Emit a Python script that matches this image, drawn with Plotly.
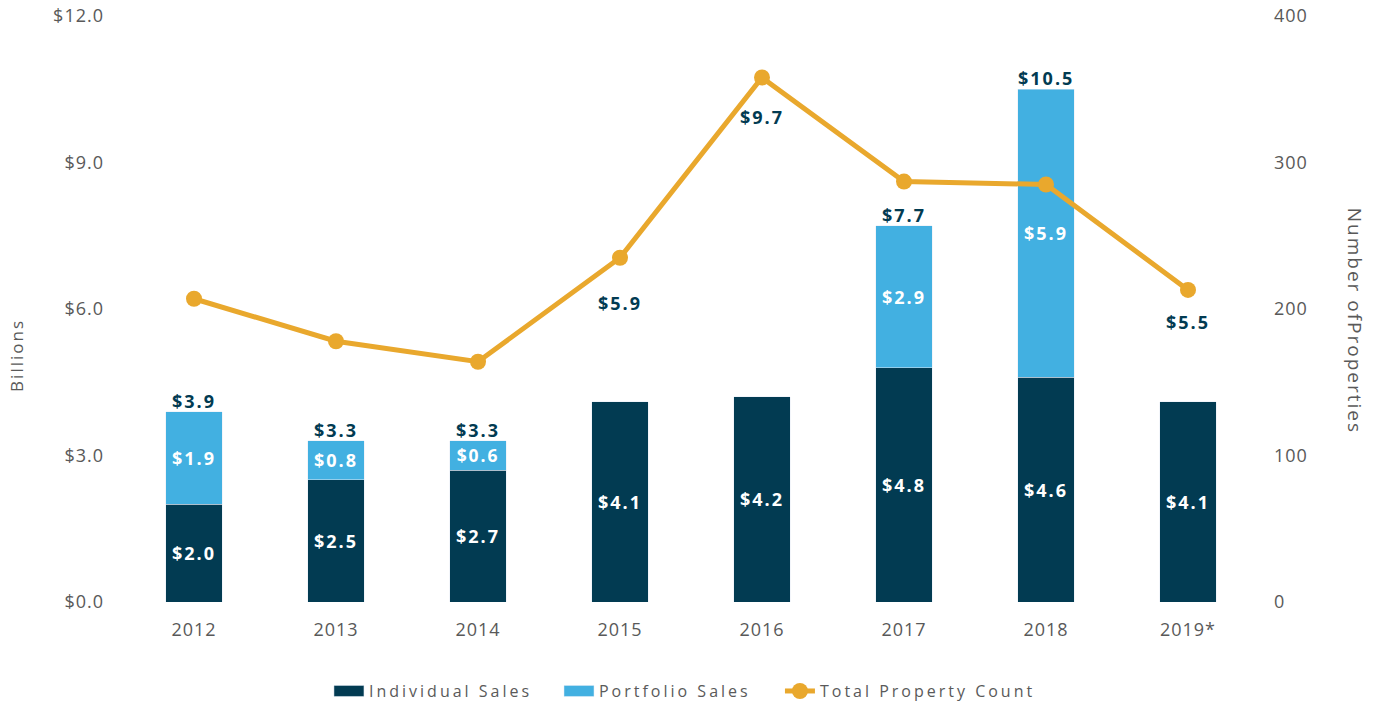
import plotly.graph_objects as go

years = ["2012", "2013", "2014", "2015", "2016", "2017", "2018", "2019*"]
individual = [2.0, 2.5, 2.7, 4.1, 4.2, 4.8, 4.6, 4.1]
portfolio = [1.9, 0.8, 0.6, None, None, 2.9, 5.9, None]
totals = [3.9, 3.3, 3.3, 5.9, 9.7, 7.7, 10.5, 5.5]
property_count = [207, 178, 164, 235, 358, 287, 285, 213]

left_ticks = [0, 3, 6, 9, 12]
left_tick_text = ["$0.0", "$3.0", "$6.0", "$9.0", "$12.0"]
right_ticks = [0, 100, 200, 300, 400]

NAVY = "#023B52"
LIGHT = "#42B0E1"
ORANGE = "#E9A82D"
GREY = "#595959"
FONT = "Open Sans"

xpos = list(range(len(years)))

fig = go.Figure()
fig.add_trace(go.Bar(
    x=xpos, y=individual, name="Individual Sales", marker_color=NAVY,
    width=0.4, legend="legend",
    text=[f"${v:.1f}" for v in individual], textposition="inside",
    insidetextanchor="middle", textangle=0,
    textfont=dict(family=FONT, size=18, color="white", weight="bold"),
))
fig.add_trace(go.Bar(
    x=xpos, y=portfolio, name="Portfolio Sales", marker_color=LIGHT,
    width=0.4, legend="legend2",
    text=[f"${v:.1f}" if v is not None else "" for v in portfolio],
    textposition="inside", insidetextanchor="middle", textangle=0,
    textfont=dict(family=FONT, size=18, color="white", weight="bold"),
))
fig.add_trace(go.Scatter(
    x=xpos, y=property_count, name="Total Property Count", yaxis="y2",
    legend="legend3",
    mode="lines+markers", line=dict(color=ORANGE, width=5),
    marker=dict(color=ORANGE, size=16),
))

for i, t in zip(xpos, totals):
    fig.add_annotation(
        x=i, y=t, xref="x", yref="y", text=f"${t:.1f}", showarrow=False,
        yanchor="bottom", yshift=-3,
        font=dict(family=FONT, size=18, color=NAVY, weight="bold"),
    )

fig.add_annotation(
    x=1.0, xref="paper", xanchor="center", xshift=96, y=0.48, yref="paper",
    text="Number ofProperties", textangle=90, showarrow=False,
    font=dict(family=FONT, size=19, color=GREY),
)
fig.add_annotation(
    x=0.0, xref="paper", xanchor="center", xshift=-106, y=0.42, yref="paper",
    text="Billions", textangle=-90, showarrow=False,
    font=dict(family=FONT, size=17, color=GREY),
)

leg_common = dict(orientation="h", xanchor="left", y=-0.152, yanchor="middle",
                  font=dict(family=FONT, size=16, color=GREY), itemwidth=30,
                  bgcolor="rgba(0,0,0,0)")

fig.update_layout(
    width=1375, height=704,
    margin=dict(l=123, r=116, t=16, b=102, autoexpand=False),
    barmode="stack",
    plot_bgcolor="white", paper_bgcolor="white",
    font=dict(family=FONT, color=GREY, size=16),
    showlegend=True,
    legend=dict(x=0.1813, **leg_common),
    legend2=dict(x=0.3838, **leg_common),
    legend3=dict(x=0.5783, **leg_common),
    xaxis=dict(range=[-0.5, len(years) - 0.5], tickvals=xpos, ticktext=years,
               showgrid=False, showline=False, zeroline=False, ticks="",
               tickfont=dict(size=18, color=GREY), ticklabelstandoff=15,
               automargin=False),
    yaxis=dict(range=[0, 12], tickvals=left_ticks, ticktext=left_tick_text,
               showgrid=False, zeroline=False, showline=False, ticks="",
               tickfont=dict(size=18, color=GREY), ticklabelstandoff=18,
               automargin=False),
    yaxis2=dict(range=[0, 400], tickvals=right_ticks, overlaying="y", side="right",
                showgrid=False, zeroline=False, showline=False, ticks="",
                tickfont=dict(size=18, color=GREY), ticklabelstandoff=14,
                automargin=False),
)

post = """
document.body.style.margin = '0';
var st = document.createElement('style');
st.innerHTML = '.xtick text, .ytick text, .y2tick text {letter-spacing: 1px;}' +
  ' .legendtext, .legend2text, .legend3text {letter-spacing: 3px;}' +
  ' text.bartext {letter-spacing: 2px;}' +
  ' .annotation-text {letter-spacing: 2px;}';
document.head.appendChild(st);
var gd = document.getElementById('{plot_id}');
function widenBars() {
  document.querySelectorAll('path').forEach(function(p) {
    var d = (p.getAttribute('d') || '').replace(/\\s/g, '');
    if (d === 'M6,6H-6V-6H6Z') {
      p.setAttribute('d', 'M15,5.5H-15V-5.5H15Z');
    }
  });
}
Promise.resolve(Plotly.relayout(gd, {
  'legend.font.color': '#5a5a5a',
  'legend2.font.color': '#5a5a5a',
  'legend3.font.color': '#5a5a5a'
})).then(function() { widenBars(); setTimeout(widenBars, 50); });
widenBars();
setTimeout(widenBars, 200);
"""

fig.write_html("out.html", post_script=post, config={"displayModeBar": False})
